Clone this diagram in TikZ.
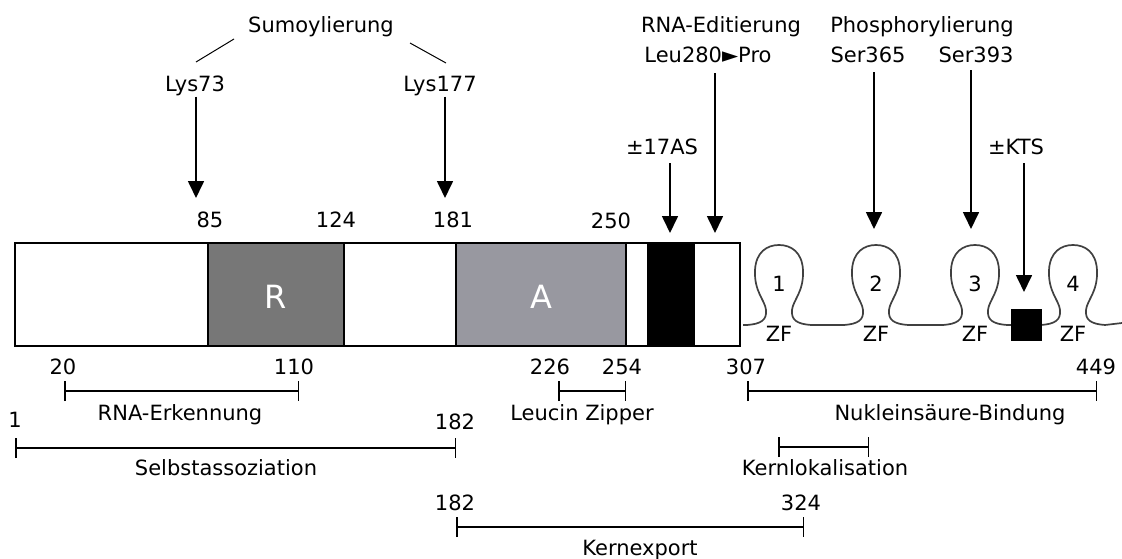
\documentclass[tikz,border=0pt]{standalone}
\usepackage{fontspec}
\setmainfont{DejaVu Sans}
\usetikzlibrary{arrows.meta,positioning}
\definecolor{rgray}{HTML}{777777}
\definecolor{agray}{HTML}{9898A0}

\begin{document}
\begin{tikzpicture}[x=1pt, y=-1pt,
  lbl/.style={font=\fontsize{21}{24}\selectfont, inner sep=0pt, anchor=base},
  big/.style={font=\fontsize{32}{36}\selectfont, text=white, inner sep=0pt},
  seg/.style={draw, line width=1.7pt},
  arrow/.style={-{Triangle[width=16pt,length=17pt]}, line width=1.7pt},
  rangebar/.style={{Bar[width=20pt]}-{Bar[width=20pt]}, line width=1.5pt},
  zfline/.style={line width=1.7pt, black!75, line join=round}
]
\useasboundingbox (0,0) rectangle (1122,559);

% protein bar with domains
\draw[seg, fill=white] (15,243) rectangle (740,346);
\draw[seg, fill=rgray] (208,243) rectangle (344,346);
\draw[seg, fill=agray] (456,243) rectangle (626,346);
\draw[seg, fill=black] (648,243) rectangle (694,346);
\draw[seg] (15,243) rectangle (740,346);
\node[big] (rdom) at (276,297) {R};
\node[big] (adom) at (541,297) {A};

% zinc fingers
\draw[zfline] (743,325)
  \foreach \c in {779,876,975,1073} {
    -- ({\c-32},325)
    .. controls ({\c-18},324) and ({\c-12},320) .. ({\c-13},310)
    .. controls ({\c-14},300) and ({\c-25},292) .. ({\c-24},270)
    .. controls ({\c-23},252) and ({\c-12},245) .. (\c,245)
    .. controls ({\c+12},245) and ({\c+23},252) .. ({\c+24},270)
    .. controls ({\c+25},292) and ({\c+14},300) .. ({\c+13},310)
    .. controls ({\c+12},320) and ({\c+18},324) .. ({\c+32},325)
  } -- (1122,323);
\fill (1011,309) rectangle (1042,341);
\foreach \c/\k in {779/1,876/2,975/3,1073/4} {
  \node[lbl] (zf\k) at (\c,291) {\k};
  \node[lbl] (zfl\k) at (\c,341) {ZF};
}

% modifications above the bar
\node[lbl] (sumo) at (321,33) {Sumoylierung};
\node[lbl] (lys73) at (195,92) {Lys73};
\node[lbl] (lys177) at (440,92) {Lys177};
\coordinate (sumoL) at (234,39);
\coordinate (sumoR) at (410,43);
\coordinate (lysL) at (196,62);
\coordinate (lysR) at (446,63);
\draw[line width=1pt] (sumoL) -- (lysL);
\draw[line width=1pt] (sumoR) -- (lysR);

\node[lbl] (edit) at (721,33) {RNA-Editierung};
\node[lbl] (leu) at (708,63) {Leu280►Pro};
\node[lbl] (phos) at (922,33) {Phosphorylierung};
\node[lbl] (ser365) at (868,63) {Ser365};
\node[lbl] (ser393) at (976,63) {Ser393};
\node[lbl] (as17) at (662,155) {±17AS};
\node[lbl] (kts) at (1016,155) {±KTS};

\coordinate (t85) at (196,198);
\coordinate (t181) at (445,198);
\coordinate (t17) at (670,233);
\coordinate (t280) at (715,233);
\coordinate (t365) at (874,229);
\coordinate (t393) at (971,229);
\coordinate (tkts) at (1024,292);

\draw[arrow] (lys73.south -| t85) -- (t85);
\draw[arrow] (lys177.south -| t181) -- (t181);
\draw[arrow] ([yshift=-8pt]as17.south -| t17) -- (t17);
\draw[arrow] ([yshift=-10pt]leu.south -| t280) -- (t280);
\draw[arrow] ([yshift=-9pt]ser365.south -| t365) -- (t365);
\draw[arrow] ([yshift=-7pt]ser393.south -| t393) -- (t393);
\draw[arrow] ([yshift=-8pt]kts.south -| tkts) -- (tkts);

% positions above the bar
\node[lbl] (n85) at (210,227) {85};
\node[lbl] (n124) at (336,227) {124};
\node[lbl] (n181) at (453,227) {181};
\node[lbl] (n250) at (611,228) {250};

% functional regions below the bar
\node[lbl] (n20) at (63,374) {20};
\node[lbl] (n110) at (294,374) {110};
\coordinate (a20) at (64,391);
\coordinate (a110) at (299,391);
\draw[rangebar] (a20) -- (a110);
\node[lbl] (rnaerk) at (180,420) {RNA-Erkennung};

\node[lbl] (n226) at (550,374) {226};
\node[lbl] (n254) at (622,374) {254};
\coordinate (a226) at (558,391);
\coordinate (a254) at (626,391);
\draw[rangebar] (a226) -- (a254);
\node[lbl] (leucin) at (582,420) {Leucin Zipper};

\node[lbl] (n307) at (746,374) {307};
\node[lbl] (n449) at (1096,374) {449};
\coordinate (a307) at (747,391);
\coordinate (a449) at (1097,391);
\draw[rangebar] (a307) -- (a449);
\node[lbl] (nukl) at (950,420) {Nukleinsäure-Bindung};

\node[lbl] (n1) at (15,427) {1};
\node[lbl] (n182a) at (455,429) {182};
\coordinate (a1) at (15,448);
\coordinate (a182a) at (456,448);
\draw[rangebar] (a1) -- (a182a);
\node[lbl] (selbst) at (226,475) {Selbstassoziation};

\coordinate (kl1) at (778,447);
\coordinate (kl2) at (869,447);
\draw[rangebar] (kl1) -- (kl2);
\node[lbl] (kernlok) at (825,475) {Kernlokalisation};

\node[lbl] (n182b) at (455,510) {182};
\node[lbl] (n324) at (801,510) {324};
\coordinate (a182b) at (456,527);
\coordinate (a324) at (804,527);
\draw[rangebar] (a182b) -- (a324);
\node[lbl] (kernexp) at (640,555) {Kernexport};
\end{tikzpicture}
\end{document}
